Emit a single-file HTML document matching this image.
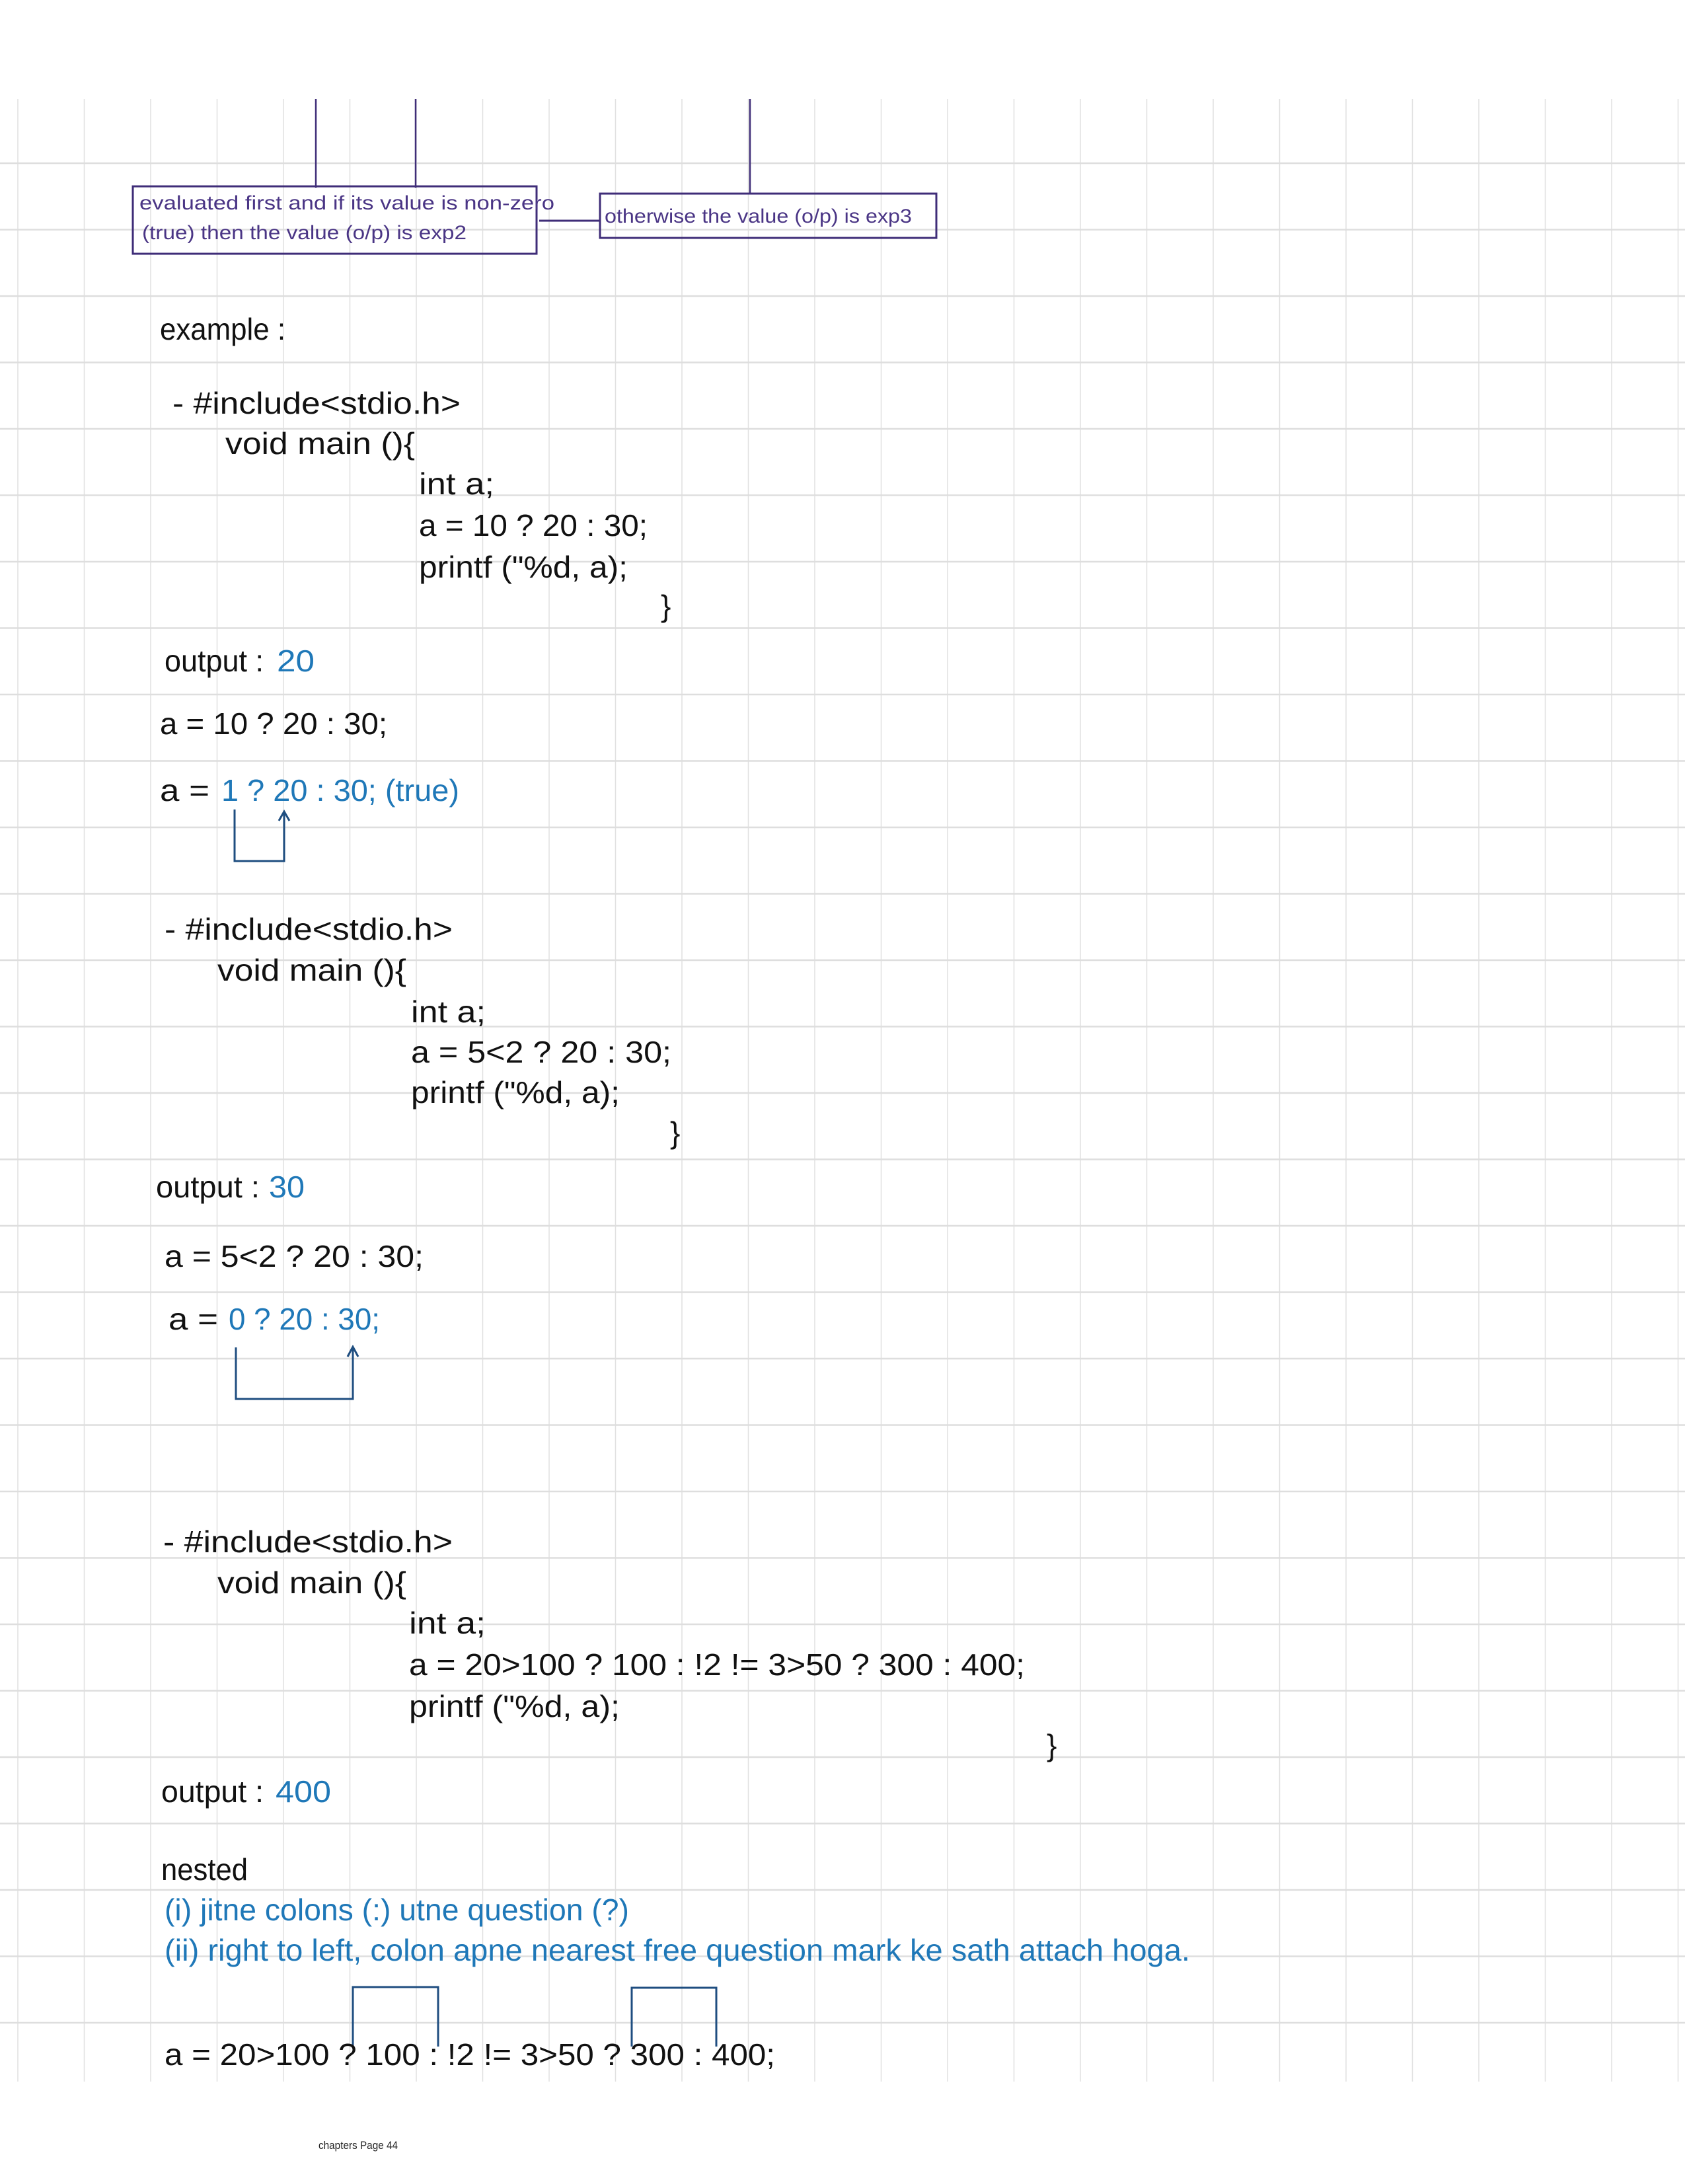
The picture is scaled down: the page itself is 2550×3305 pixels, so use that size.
<!DOCTYPE html>
<html><head><meta charset="utf-8"><style>
html,body{margin:0;padding:0;background:#fff;}
svg{display:block;}
text{font-family:"Liberation Sans",sans-serif;}
.k{fill:#111;font-size:46px;}
.b{fill:#1f78b8;font-size:46px;}
.p{fill:#4a3585;font-size:30px;}
</style></head><body>
<svg width="2550" height="3305" viewBox="0 0 2550 3305" xmlns="http://www.w3.org/2000/svg">
<g stroke="#e0e0e0" stroke-width="1.5">
<line x1="27" y1="150" x2="27" y2="3150"/><line x1="127.5" y1="150" x2="127.5" y2="3150"/><line x1="228" y1="150" x2="228" y2="3150"/><line x1="328.5" y1="150" x2="328.5" y2="3150"/><line x1="429" y1="150" x2="429" y2="3150"/><line x1="529.5" y1="150" x2="529.5" y2="3150"/><line x1="630" y1="150" x2="630" y2="3150"/><line x1="730.5" y1="150" x2="730.5" y2="3150"/><line x1="831" y1="150" x2="831" y2="3150"/><line x1="931.5" y1="150" x2="931.5" y2="3150"/><line x1="1032" y1="150" x2="1032" y2="3150"/><line x1="1132.5" y1="150" x2="1132.5" y2="3150"/><line x1="1233" y1="150" x2="1233" y2="3150"/><line x1="1333.5" y1="150" x2="1333.5" y2="3150"/><line x1="1434" y1="150" x2="1434" y2="3150"/><line x1="1534.5" y1="150" x2="1534.5" y2="3150"/><line x1="1635" y1="150" x2="1635" y2="3150"/><line x1="1735.5" y1="150" x2="1735.5" y2="3150"/><line x1="1836" y1="150" x2="1836" y2="3150"/><line x1="1936.5" y1="150" x2="1936.5" y2="3150"/><line x1="2037" y1="150" x2="2037" y2="3150"/><line x1="2137.5" y1="150" x2="2137.5" y2="3150"/><line x1="2238" y1="150" x2="2238" y2="3150"/><line x1="2338.5" y1="150" x2="2338.5" y2="3150"/><line x1="2439" y1="150" x2="2439" y2="3150"/><line x1="2539.5" y1="150" x2="2539.5" y2="3150"/>
</g>
<g stroke="#dedede" stroke-width="2.5" id="h"></g>
<g stroke="#dedede" stroke-width="2.5">
<line x1="0" y1="247" x2="2550" y2="247"/><line x1="0" y1="347.5" x2="2550" y2="347.5"/><line x1="0" y1="448" x2="2550" y2="448"/><line x1="0" y1="548.5" x2="2550" y2="548.5"/><line x1="0" y1="649" x2="2550" y2="649"/><line x1="0" y1="749.5" x2="2550" y2="749.5"/><line x1="0" y1="850" x2="2550" y2="850"/><line x1="0" y1="950.5" x2="2550" y2="950.5"/><line x1="0" y1="1051" x2="2550" y2="1051"/><line x1="0" y1="1151.5" x2="2550" y2="1151.5"/><line x1="0" y1="1252" x2="2550" y2="1252"/><line x1="0" y1="1352.5" x2="2550" y2="1352.5"/><line x1="0" y1="1453" x2="2550" y2="1453"/><line x1="0" y1="1553.5" x2="2550" y2="1553.5"/><line x1="0" y1="1654" x2="2550" y2="1654"/><line x1="0" y1="1754.5" x2="2550" y2="1754.5"/><line x1="0" y1="1855" x2="2550" y2="1855"/><line x1="0" y1="1955.5" x2="2550" y2="1955.5"/><line x1="0" y1="2056" x2="2550" y2="2056"/><line x1="0" y1="2156.5" x2="2550" y2="2156.5"/><line x1="0" y1="2257" x2="2550" y2="2257"/><line x1="0" y1="2357.5" x2="2550" y2="2357.5"/><line x1="0" y1="2458" x2="2550" y2="2458"/><line x1="0" y1="2558.5" x2="2550" y2="2558.5"/><line x1="0" y1="2659" x2="2550" y2="2659"/><line x1="0" y1="2759.5" x2="2550" y2="2759.5"/><line x1="0" y1="2860" x2="2550" y2="2860"/><line x1="0" y1="2960.5" x2="2550" y2="2960.5"/><line x1="0" y1="3061" x2="2550" y2="3061"/>
</g>

<!-- top diagram -->
<g stroke="#3f2d78" fill="none">
<line x1="478" y1="150" x2="478" y2="284" stroke-width="2.5"/>
<line x1="629" y1="150" x2="629" y2="284" stroke-width="2.5"/>
<line x1="1135" y1="150" x2="1135" y2="294" stroke-width="2.5"/>
<rect x="201" y="282" width="611" height="102" stroke-width="3"/>
<rect x="908" y="293" width="509" height="67" stroke-width="3"/>
<line x1="816" y1="334" x2="908" y2="334" stroke-width="3"/>
</g>
<text class="p" x="211" y="317" textLength="628" lengthAdjust="spacingAndGlyphs">evaluated first and if its value is non-zero</text>
<text class="p" x="215" y="362" textLength="491" lengthAdjust="spacingAndGlyphs">(true) then the value (o/p) is exp2</text>
<text class="p" x="915" y="337" textLength="465" lengthAdjust="spacingAndGlyphs">otherwise the value (o/p) is exp3</text>

<text class="k" x="242" y="514" textLength="190" lengthAdjust="spacingAndGlyphs">example :</text>

<text class="k" x="261" y="626" textLength="436" lengthAdjust="spacingAndGlyphs">- #include&lt;stdio.h&gt;</text>
<text class="k" x="341" y="687" textLength="287" lengthAdjust="spacingAndGlyphs">void main (){</text>
<text class="k" x="634" y="748" textLength="114" lengthAdjust="spacingAndGlyphs">int a;</text>
<text class="k" x="634" y="811" textLength="346" lengthAdjust="spacingAndGlyphs">a = 10 ? 20 : 30;</text>
<text class="k" x="634" y="874" textLength="316" lengthAdjust="spacingAndGlyphs">printf ("%d, a);</text>
<text class="k" x="1000" y="933">}</text>

<text class="k" x="249" y="1016" textLength="150" lengthAdjust="spacingAndGlyphs">output :</text>
<text class="b" x="419" y="1016" textLength="57" lengthAdjust="spacingAndGlyphs">20</text>
<text class="k" x="242" y="1111" textLength="344" lengthAdjust="spacingAndGlyphs">a = 10 ? 20 : 30;</text>
<text class="k" x="242" y="1212" textLength="75" lengthAdjust="spacingAndGlyphs">a =</text>
<text class="b" x="335" y="1212" textLength="360" lengthAdjust="spacingAndGlyphs">1 ? 20 : 30; (true)</text>
<g stroke="#1f4e80" stroke-width="3" fill="none">
<polyline points="355,1225 355,1303 430,1303 430,1230"/>
<polyline points="422,1242 430,1228 438,1242"/>
</g>

<text class="k" x="249" y="1422" textLength="436" lengthAdjust="spacingAndGlyphs">- #include&lt;stdio.h&gt;</text>
<text class="k" x="329" y="1484" textLength="286" lengthAdjust="spacingAndGlyphs">void main (){</text>
<text class="k" x="622" y="1547" textLength="113" lengthAdjust="spacingAndGlyphs">int a;</text>
<text class="k" x="622" y="1608" textLength="394" lengthAdjust="spacingAndGlyphs">a = 5&lt;2 ? 20 : 30;</text>
<text class="k" x="622" y="1669" textLength="316" lengthAdjust="spacingAndGlyphs">printf ("%d, a);</text>
<text class="k" x="1014" y="1730">}</text>

<text class="k" x="236" y="1812" textLength="157" lengthAdjust="spacingAndGlyphs">output :</text>
<text class="b" x="407" y="1812" textLength="54" lengthAdjust="spacingAndGlyphs">30</text>
<text class="k" x="249" y="1917" textLength="392" lengthAdjust="spacingAndGlyphs">a = 5&lt;2 ? 20 : 30;</text>
<text class="k" x="255" y="2012" textLength="75" lengthAdjust="spacingAndGlyphs">a =</text>
<text class="b" x="346" y="2012" textLength="229" lengthAdjust="spacingAndGlyphs">0 ? 20 : 30;</text>
<g stroke="#1f4e80" stroke-width="3" fill="none">
<polyline points="357,2039 357,2117 534,2117 534,2041"/>
<polyline points="526,2053 534,2038 542,2053"/>
</g>

<text class="k" x="247" y="2349" textLength="438" lengthAdjust="spacingAndGlyphs">- #include&lt;stdio.h&gt;</text>
<text class="k" x="329" y="2411" textLength="286" lengthAdjust="spacingAndGlyphs">void main (){</text>
<text class="k" x="619" y="2472" textLength="116" lengthAdjust="spacingAndGlyphs">int a;</text>
<text class="k" x="619" y="2535" textLength="932" lengthAdjust="spacingAndGlyphs">a = 20&gt;100 ? 100 : !2 != 3&gt;50 ? 300 : 400;</text>
<text class="k" x="619" y="2598" textLength="319" lengthAdjust="spacingAndGlyphs">printf ("%d, a);</text>
<text class="k" x="1584" y="2657">}</text>

<text class="k" x="244" y="2727" textLength="155" lengthAdjust="spacingAndGlyphs">output :</text>
<text class="b" x="417" y="2727" textLength="84" lengthAdjust="spacingAndGlyphs">400</text>

<text class="k" x="244" y="2845" textLength="131" lengthAdjust="spacingAndGlyphs">nested</text>
<text class="b" x="249" y="2906" textLength="703" lengthAdjust="spacingAndGlyphs">(i) jitne colons (:) utne question (?)</text>
<text class="b" x="249" y="2967" textLength="1552" lengthAdjust="spacingAndGlyphs">(ii) right to left, colon apne nearest free question mark ke sath attach hoga.</text>

<g stroke="#1f4e80" stroke-width="3" fill="none">
<polyline points="534,3097 534,3007 663,3007 663,3097"/>
<polyline points="956,3097 956,3008 1084,3008 1084,3097"/>
</g>
<text class="k" x="249" y="3125" textLength="924" lengthAdjust="spacingAndGlyphs">a = 20&gt;100 ? 100 : !2 != 3&gt;50 ? 300 : 400;</text>

<text x="482" y="3252" font-family="Liberation Serif, serif" font-size="17" fill="#222" textLength="120" lengthAdjust="spacingAndGlyphs">chapters Page 44</text>
</svg>
</body></html>
